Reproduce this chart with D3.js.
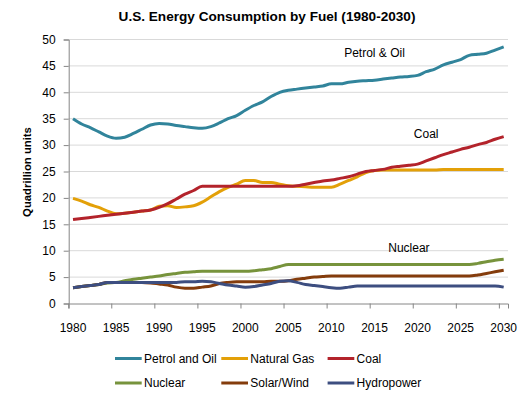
<!DOCTYPE html>
<html>
<head>
<meta charset="utf-8">
<script src="https://cdn.jsdelivr.net/npm/d3@7"></script>
<style>
	body { margin: 0; background: #fff; }
	text { font-family: "Liberation Sans", Arial, sans-serif; fill: #000; }
</style>
</head>
<body>
<div id="chart"></div>
<script>

///////////////////////////////////////////////////////////////////////////
//////////////////////////////// The data /////////////////////////////////
///////////////////////////////////////////////////////////////////////////

var years = d3.range(1980, 2031);

var petrol = [35.0, 34.0, 33.3, 32.5, 31.7, 31.3, 31.5, 32.2, 33.0, 33.8,
	34.1, 34.0, 33.7, 33.5, 33.3, 33.2, 33.5, 34.2, 35.0, 35.6,
	36.6, 37.5, 38.2, 39.2, 40.0, 40.4, 40.6, 40.8, 41.0, 41.2,
	41.6, 41.6, 41.9, 42.1, 42.2, 42.3, 42.5, 42.7, 42.9, 43.0,
	43.2, 43.9, 44.4, 45.2, 45.7, 46.2, 47.0, 47.2, 47.4, 48.0, 48.6];

var gas = [19.9, 19.4, 18.7, 18.2, 17.5, 17.0, 17.1, 17.3, 17.5, 17.7,
	18.4, 18.5, 18.2, 18.3, 18.5, 19.2, 20.2, 21.2, 22.0, 22.6,
	23.3, 23.3, 22.9, 22.9, 22.6, 22.3, 22.2, 22.1, 22.0, 22.0,
	22.0, 22.6, 23.3, 24.0, 24.8, 25.2, 25.3, 25.3, 25.3, 25.3,
	25.3, 25.3, 25.3, 25.4, 25.4, 25.4, 25.4, 25.4, 25.4, 25.4, 25.4];

var coal = [15.9, 16.1, 16.3, 16.5, 16.7, 16.9, 17.1, 17.3, 17.5, 17.7,
	18.2, 18.9, 19.8, 20.7, 21.4, 22.2, 22.2, 22.2, 22.2, 22.2,
	22.2, 22.2, 22.2, 22.2, 22.2, 22.2, 22.3, 22.6, 22.9, 23.2,
	23.4, 23.7, 24.0, 24.5, 25.0, 25.2, 25.4, 25.8, 26.0, 26.2,
	26.4, 27.0, 27.6, 28.2, 28.7, 29.2, 29.6, 30.1, 30.5, 31.1, 31.6];

var nuclear = [3.0, 3.2, 3.4, 3.6, 3.9, 4.0, 4.3, 4.6, 4.8, 5.0,
	5.2, 5.5, 5.7, 5.9, 6.0, 6.1, 6.1, 6.1, 6.1, 6.1,
	6.1, 6.2, 6.4, 6.6, 7.0, 7.4, 7.4, 7.4, 7.4, 7.4,
	7.4, 7.4, 7.4, 7.4, 7.4, 7.4, 7.4, 7.4, 7.4, 7.4,
	7.4, 7.4, 7.4, 7.4, 7.4, 7.4, 7.4, 7.6, 7.9, 8.2, 8.4];

var solarWind = [3.0, 3.2, 3.4, 3.6, 4.0, 4.0, 4.0, 4.0, 4.0, 3.9,
	3.7, 3.5, 3.1, 2.9, 2.9, 3.1, 3.3, 3.8, 4.0, 4.1,
	4.1, 4.1, 4.1, 4.2, 4.2, 4.3, 4.6, 4.8, 5.0, 5.1,
	5.2, 5.2, 5.2, 5.2, 5.2, 5.2, 5.2, 5.2, 5.2, 5.2,
	5.2, 5.2, 5.2, 5.2, 5.2, 5.2, 5.2, 5.4, 5.7, 6.0, 6.3];

var hydro = [3.0, 3.2, 3.4, 3.6, 4.0, 4.0, 4.0, 4.0, 4.0, 4.0,
	4.0, 4.0, 4.0, 4.1, 4.1, 4.2, 4.1, 3.8, 3.5, 3.3,
	3.1, 3.2, 3.5, 3.8, 4.2, 4.3, 4.0, 3.6, 3.4, 3.2,
	3.0, 2.9, 3.1, 3.3, 3.3, 3.3, 3.3, 3.3, 3.3, 3.3,
	3.3, 3.3, 3.3, 3.3, 3.3, 3.3, 3.3, 3.3, 3.3, 3.3, 3.1];

var seriesNames = ["Petrol and Oil", "Natural Gas", "Coal", "Nuclear", "Solar/Wind", "Hydropower"];
var seriesValues = [petrol, gas, coal, nuclear, solarWind, hydro];
var colours = ["#31849B", "#E3A008", "#B3232B", "#77933C", "#843C0C", "#3D4E80"];

var yTicks = d3.range(0, 51, 5);
var xTickYears = years.filter(function(d) { return d % 5 === 0; });

var annotations = [
	{ text: "Petrol & Oil", year: 2015, value: 46.7 },
	{ text: "Coal", year: 2021, value: 31.3 },
	{ text: "Nuclear", year: 2019, value: 9.75 }
];

///////////////////////////////////////////////////////////////////////////
//////////////////// Set up and initiate svg container ////////////////////
///////////////////////////////////////////////////////////////////////////

var width = 531, height = 394;

var svg = d3.select("#chart")
	.append("svg")
	.attr("width", width)
	.attr("height", height);

var plotLeft = 68.7, plotRight = 508, plotTop = 39.5, plotBottom = 303.5;

var x = d3.scaleBand()
	.domain(years)
	.range([plotLeft, plotRight]);

var y = d3.scaleLinear()
	.domain([0, 50])
	.range([plotBottom, plotTop]);

//Title
svg.append("text")
	.attr("x", 267)
	.attr("y", 21)
	.attr("text-anchor", "middle")
	.style("font-size", "13.6px")
	.style("font-weight", "bold")
	.text("U.S. Energy Consumption by Fuel (1980-2030)");

//Gridlines
svg.append("g")
	.selectAll("line")
	.data(yTicks.filter(function(d) { return d > 0; }))
	.enter().append("line")
	.attr("x1", plotLeft)
	.attr("x2", plotRight)
	.attr("y1", function(d) { return y(d); })
	.attr("y2", function(d) { return y(d); })
	.style("stroke", "#D9D9D9")
	.style("stroke-width", 1);

///////////////////////////////////////////////////////////////////////////
/////////////////////////////// The axes //////////////////////////////////
///////////////////////////////////////////////////////////////////////////

var yAxis = svg.append("g")
	.attr("transform", "translate(" + plotLeft + ",0)")
	.call(d3.axisLeft(y).tickValues(yTicks).tickSize(5).tickPadding(8));

var xAxis = svg.append("g")
	.attr("transform", "translate(0," + plotBottom + ")")
	.call(d3.axisBottom(x).tickValues(xTickYears).tickSize(5).tickPadding(15));

//Excel puts the tick marks between the categories, labels stay centred
xAxis.selectAll(".tick line")
	.attr("x1", -x.bandwidth()/2)
	.attr("x2", -x.bandwidth()/2);

[yAxis, xAxis].forEach(function(ax) {
	ax.select(".domain").style("stroke", "#868686");
	ax.selectAll(".tick line").style("stroke", "#868686");
	ax.selectAll("text")
		.style("font-family", "'Liberation Sans', Arial, sans-serif")
		.style("font-size", "12px")
		.style("fill", "#000");
});

//Y axis title
svg.append("text")
	.attr("transform", "translate(31,172) rotate(-90)")
	.attr("text-anchor", "middle")
	.style("font-size", "11.3px")
	.style("font-weight", "bold")
	.text("Quadrillion units");

///////////////////////////////////////////////////////////////////////////
/////////////////////////////// The lines /////////////////////////////////
///////////////////////////////////////////////////////////////////////////

var xMid = function(yr) { return x(yr) + x.bandwidth()/2; };

var line = d3.line()
	.x(function(d, i) { return xMid(years[i]); })
	.y(function(d) { return y(d); })
	.curve(d3.curveMonotoneX);

svg.append("g")
	.selectAll("path")
	.data(seriesValues)
	.enter().append("path")
	.attr("d", line)
	.style("fill", "none")
	.style("stroke", function(d, i) { return colours[i]; })
	.style("stroke-width", 3)
	.style("stroke-linejoin", "round");

//Labels inside the plot
svg.append("g")
	.selectAll("text")
	.data(annotations)
	.enter().append("text")
	.attr("x", function(d) { return xMid(d.year); })
	.attr("y", function(d) { return y(d.value); })
	.attr("text-anchor", "middle")
	.style("font-size", "12px")
	.text(function(d) { return d.text; });

///////////////////////////////////////////////////////////////////////////
/////////////////////////////// The legend ////////////////////////////////
///////////////////////////////////////////////////////////////////////////

var legend = svg.append("g")
	.selectAll("g")
	.data(seriesNames)
	.enter().append("g")
	.attr("transform", function(d, i) {
		return "translate(" + (115 + (i % 3) * 106.3) + "," + (358.5 + Math.floor(i / 3) * 24.5) + ")";
	});

legend.append("line")
	.attr("x1", 0)
	.attr("x2", 26.7)
	.style("stroke", function(d, i) { return colours[i]; })
	.style("stroke-width", 3);

legend.append("text")
	.attr("x", 29)
	.attr("y", 4.2)
	.style("font-size", "12px")
	.text(function(d) { return d; });

</script>
</body>
</html>
